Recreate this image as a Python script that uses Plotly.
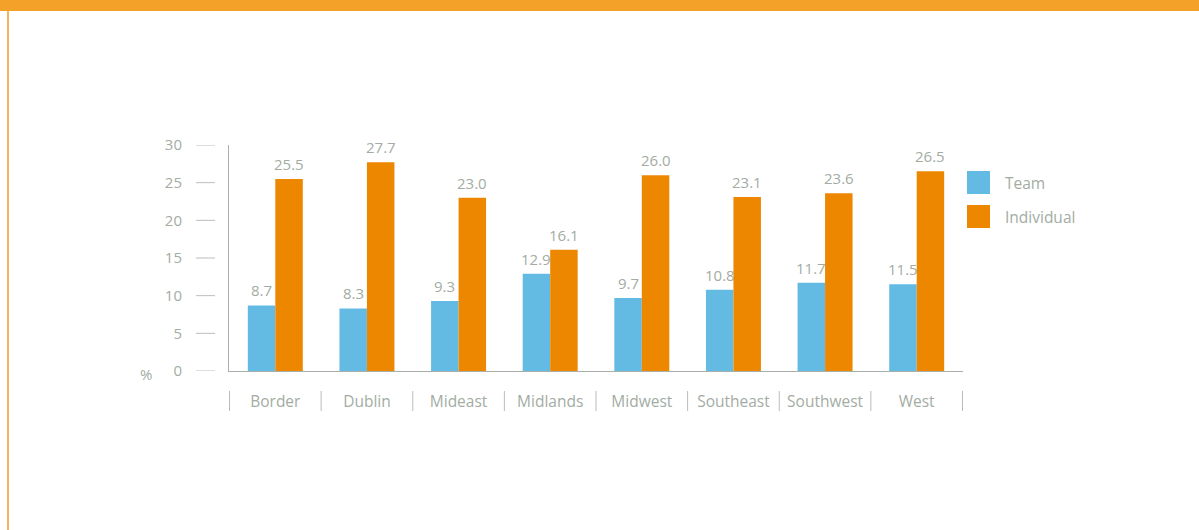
import plotly.graph_objects as go

# Share of participants by region (%)
regions = ["Border", "Dublin", "Mideast", "Midlands", "Midwest", "Southeast", "Southwest", "West"]
team = [8.7, 8.3, 9.3, 12.9, 9.7, 10.8, 11.7, 11.5]
individual = [25.5, 27.7, 23.0, 16.1, 26.0, 23.1, 23.6, 26.5]
series_names = ["Team", "Individual"]
y_ticks = [0, 5, 10, 15, 20, 25, 30]

W, H = 1199, 530
TEAM_COLOR = "#63BBE4"
IND_COLOR = "#EE8700"
TEXT_COLOR = "#A3ACA3"
LINE_COLOR = "#A9B0A9"
FONT = "Open Sans, Liberation Sans, Arial, sans-serif"
NUM_SIZE = 15
LABEL_SIZE = 15.5
BARGAP = 0.4


def px_x(v):
    return v / W


def px_y(v):
    return (H - v) / H


fig = go.Figure()
series = [(series_names[0], team, TEAM_COLOR), (series_names[1], individual, IND_COLOR)]
for name, vals, col in series:
    fig.add_trace(go.Bar(
        x=regions, y=vals, name=name, marker=dict(color=col, line=dict(width=0)),
        showlegend=False,
    ))

annotations = []
# value labels above each bar (bar centres sit a half-bar from the category centre)
bar_w = (1 - BARGAP) / len(series)
for k, (name, vals, col) in enumerate(series):
    offset = (k - (len(series) - 1) / 2) * bar_w
    for i, v in enumerate(vals):
        annotations.append(dict(xref="x", yref="y", x=i + offset, y=v, text=f"{v:.1f}",
                                showarrow=False, xanchor="center", yanchor="bottom", yshift=3,
                                font=dict(color=TEXT_COLOR, size=NUM_SIZE, family=FONT)))

shapes = []
# orange frame: top band and thin left rule
shapes.append(dict(type="rect", xref="paper", yref="paper", x0=0, x1=1,
                   y0=px_y(11), y1=1, fillcolor="#F4A12A", line=dict(width=0), layer="above"))
shapes.append(dict(type="line", xref="paper", yref="paper", x0=px_x(8), x1=px_x(8),
                   y0=0, y1=px_y(11), line=dict(color="#F6B55C", width=2)))
# detached y tick marks
for t in y_ticks:
    shapes.append(dict(type="line", xref="paper", yref="y", x0=px_x(196), x1=px_x(215),
                       y0=t, y1=t, line=dict(color="#B8BFB8", width=1)))
# category separators below the axis
for i in range(len(regions) + 1):
    shapes.append(dict(type="line", xref="x", yref="paper", x0=i - 0.5, x1=i - 0.5,
                       y0=px_y(411), y1=px_y(391), line=dict(color="#B8BFB8", width=1)))
# legend swatches
legend_colors = [TEAM_COLOR, IND_COLOR]
legend_tops = [171, 205]
for name, col, top in zip(series_names, legend_colors, legend_tops):
    shapes.append(dict(type="rect", xref="paper", yref="paper", x0=px_x(967), x1=px_x(990),
                       y0=px_y(top + 23), y1=px_y(top), fillcolor=col, line=dict(width=0)))
    annotations.append(dict(xref="paper", yref="paper", x=px_x(1003), y=px_y(top + 12),
                            text=name, showarrow=False, xanchor="left", yanchor="middle",
                            font=dict(color=TEXT_COLOR, size=LABEL_SIZE, family=FONT)))
annotations.append(dict(xref="paper", yref="y", x=px_x(146), y=0, yshift=-3, text="%",
                        showarrow=False, xanchor="center", yanchor="middle",
                        font=dict(color=TEXT_COLOR, size=NUM_SIZE, family=FONT)))

fig.update_layout(
    width=W, height=H, margin=dict(l=0, r=0, t=0, b=0, autoexpand=False),
    paper_bgcolor="white", plot_bgcolor="white",
    barmode="group", bargap=BARGAP, bargroupgap=0,
    font=dict(family=FONT, color=TEXT_COLOR, size=NUM_SIZE),
    shapes=shapes, annotations=annotations,
    xaxis=dict(domain=[px_x(229), px_x(963)], showgrid=False, showline=True,
               linecolor=LINE_COLOR, linewidth=1, ticks="", ticklabelstandoff=16,
               tickfont=dict(color=TEXT_COLOR, size=LABEL_SIZE, family=FONT)),
    yaxis=dict(domain=[px_y(371), px_y(145)], range=[0, 30], showgrid=False,
               zeroline=False, showline=True, linecolor=LINE_COLOR, linewidth=1,
               tickvals=y_ticks, ticks="", ticklabelstandoff=43,
               tickfont=dict(color=TEXT_COLOR, size=NUM_SIZE, family=FONT)),
)

# page styling: figure flush with the window edges
page_js = ("document.body.style.margin='0';document.body.style.padding='0';"
           "document.documentElement.style.overflow='hidden';")
fig.write_html("out.html", post_script=page_js)
